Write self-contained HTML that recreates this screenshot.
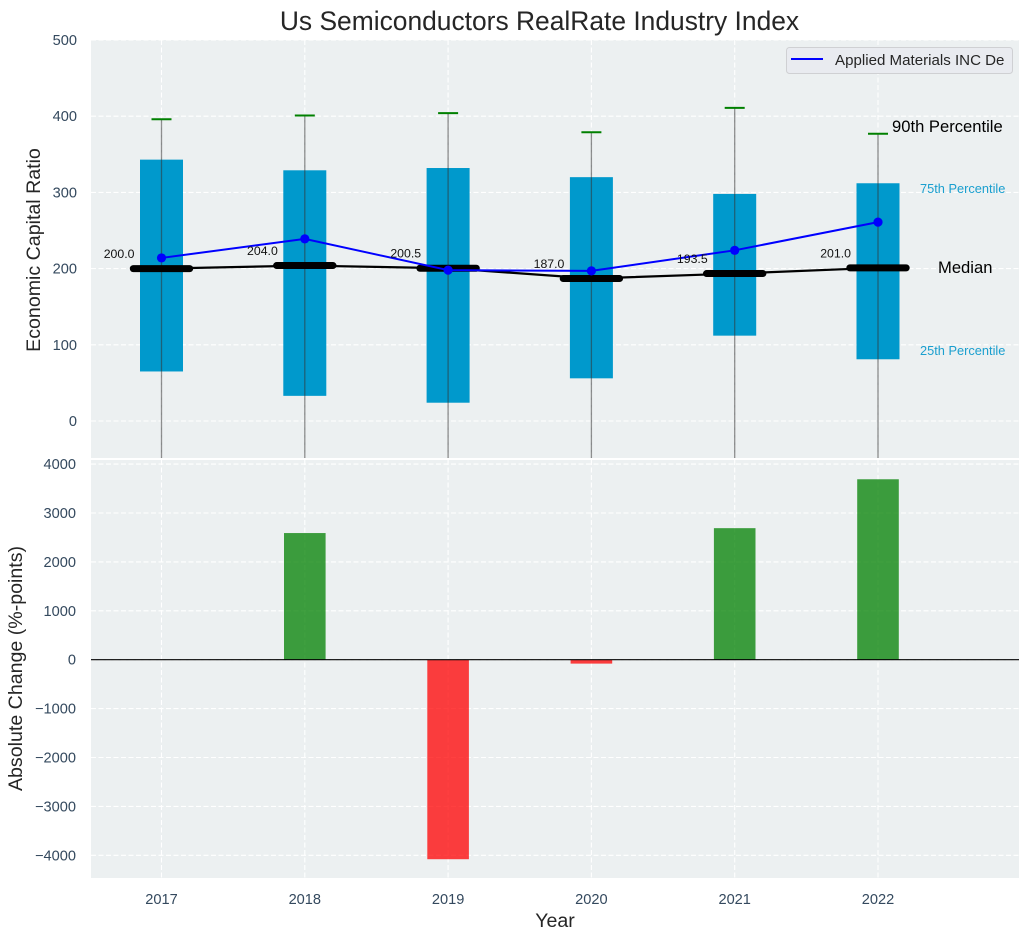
<!DOCTYPE html>
<html>
<head>
<meta charset="utf-8">
<title>Us Semiconductors RealRate Industry Index</title>
<style>
html,body{margin:0;padding:0;background:#fff;width:1029px;height:940px;overflow:hidden}
svg{display:block;font-family:"Liberation Sans",Arial,sans-serif}
</style>
</head>
<body>
<svg id="chart" xmlns="http://www.w3.org/2000/svg" width="1029" height="940" viewBox="0 0 1029 940">
<defs>
<clipPath id="top-clip"><rect x="91" y="40" width="928" height="418"/></clipPath>
<clipPath id="bottom-clip"><rect x="91" y="460" width="928" height="418"/></clipPath>
</defs>
<rect x="91" y="40" width="928" height="418" fill="#ecf0f1"/>
<rect x="91" y="460" width="928" height="418" fill="#ecf0f1"/>
<g id="grid"></g>
<g id="top-marks" clip-path="url(#top-clip)"></g>
<g id="bottom-marks" clip-path="url(#bottom-clip)"></g>
<g id="ticks" font-size="14.6" fill="#34495e"></g>
<g id="median-labels" font-size="12.3" fill="#111"></g>
<text x="539.5" y="30" text-anchor="middle" font-size="26.4" fill="#262626">Us Semiconductors RealRate Industry Index</text>
<text transform="translate(40,250) rotate(-90)" text-anchor="middle" font-size="19.6" fill="#262626">Economic Capital Ratio</text>
<text transform="translate(22,668.5) rotate(-90)" text-anchor="middle" font-size="19.6" fill="#262626">Absolute Change (%-points)</text>
<text x="555" y="927" text-anchor="middle" font-size="19.6" fill="#262626">Year</text>
<text x="892" y="132" font-size="16.6" fill="#000">90th Percentile</text>
<text x="920" y="193" font-size="12.8" fill="#1a9fcf">75th Percentile</text>
<text x="938" y="273" font-size="16.6" fill="#000">Median</text>
<text x="920" y="355" font-size="12.8" fill="#1a9fcf">25th Percentile</text>
<g>
<rect x="786.5" y="47.5" width="226" height="26" rx="3" fill="#e9ebf0" stroke="#cfd0d3"/>
<line x1="791" y1="59" x2="823" y2="59" stroke="#0000ff" stroke-width="2"/>
<text x="835" y="65" font-size="15.1" fill="#262626">Applied Materials INC De</text>
</g>
</svg>
<script>
const years = [2017, 2018, 2019, 2020, 2021, 2022];
const p90 = [396, 401, 404, 379, 411, 377];
const p75 = [343, 329, 332, 320, 298, 312];
const medians = [200, 204, 200.5, 187, 193.5, 201];
const p25 = [65, 33, 24, 56, 112, 81];
const p10 = [-120, -120, -120, -120, -120, -120];
const company = [214, 239, 198, 197, 224, 261];
const changes = [0, 2590, -4080, -80, 2690, 3690];
const topTicks = [0, 100, 200, 300, 400, 500];
const bottomTicks = [-4000, -3000, -2000, -1000, 0, 1000, 2000, 3000, 4000];

const NS = 'http://www.w3.org/2000/svg';
const xScale = v => 161.5 + (v - 2017) * 143.3;
const yTop = v => 421 - v * 0.762;
const yBottom = v => 659.7 - v * 0.0489;

function make(tag, parent, attrs, text) {
  const el = document.createElementNS(NS, tag);
  for (const k in attrs) el.setAttribute(k, attrs[k]);
  if (text !== undefined) el.textContent = text;
  parent.appendChild(el);
  return el;
}
const grid = document.getElementById('grid');
const top_ = document.getElementById('top-marks');
const bottom = document.getElementById('bottom-marks');
const ticks = document.getElementById('ticks');
const medLabels = document.getElementById('median-labels');
const gridStyle = {stroke: '#ffffff', 'stroke-width': 1.1, 'stroke-dasharray': '5 2.5', fill: 'none'};

topTicks.forEach(t => {
  const g = make('line', grid, Object.assign({x1: 91, x2: 1019, y1: yTop(t), y2: yTop(t)}, gridStyle));
  
  
  const l = make('text', ticks, {x: 77, y: yTop(t) + 5, 'text-anchor': 'end'}, String(t));
  
  
});
bottomTicks.forEach(t => {
  const g = make('line', grid, Object.assign({x1: 91, x2: 1019, y1: yBottom(t), y2: yBottom(t)}, gridStyle));
  
  
  const l = make('text', ticks, {x: 76, y: yBottom(t) + 5, 'text-anchor': 'end'}, String(t).replace('-', '\u2212'));
  
  
});
years.forEach(y => {
  const a = make('line', grid, Object.assign({x1: xScale(y), x2: xScale(y), y1: 40, y2: 458}, gridStyle));
  
  
  const b = make('line', grid, Object.assign({x1: xScale(y), x2: xScale(y), y1: 460, y2: 878}, gridStyle));
  
  
  const l = make('text', ticks, {x: xScale(y), y: 904, 'text-anchor': 'middle'}, String(y));
  
  
});

// Interquartile boxes
years.forEach((y, i) => {
  const r = make('rect', top_, {x: xScale(y) - 21.5, width: 43, y: yTop(p75[i]), height: yTop(p25[i]) - yTop(p75[i]), fill: '#0099cc'});
  
  
});
// Whiskers and caps
years.forEach((y, i) => {
  const w = make('line', top_, {x1: xScale(y), x2: xScale(y), y1: yTop(p90[i]), y2: yTop(p10[i]), stroke: '#333', 'stroke-opacity': 0.55, 'stroke-width': 1.3});
  
  
  const c = make('line', top_, {x1: xScale(y) - 10, x2: xScale(y) + 10, y1: yTop(p90[i]), y2: yTop(p90[i]), stroke: '#008000', 'stroke-width': 2});
  
  
});
// Median connecting line
const medianLine = make('polyline', top_, {points: years.map((y, i) => xScale(y) + ',' + yTop(medians[i])).join(' '), fill: 'none', stroke: '#000', 'stroke-width': 2.2});


years.forEach((y, i) => {
  const m = make('line', top_, {x1: xScale(y) - 28.2, x2: xScale(y) + 28.2, y1: yTop(medians[i]), y2: yTop(medians[i]), stroke: '#000', 'stroke-width': 7, 'stroke-linecap': 'round'});
  
  
  const t = make('text', medLabels, {x: xScale(y) - 27, y: yTop(medians[i]) - 10.5, 'text-anchor': 'end'}, medians[i].toFixed(1));
  
  
});
// Company series
const companyLine = make('polyline', top_, {points: years.map((y, i) => xScale(y) + ',' + yTop(company[i])).join(' '), fill: 'none', stroke: '#0000ff', 'stroke-width': 2});


years.forEach((y, i) => {
  const p = make('circle', top_, {cx: xScale(y), cy: yTop(company[i]), r: 4.6, fill: '#0000ff'});
  
  
});
// Change bars
years.forEach((y, i) => {
  const v = changes[i];
  const b = make('rect', bottom, {x: xScale(y) - 20.8, width: 41.6, y: Math.min(yBottom(v), yBottom(0)), height: Math.abs(yBottom(v) - yBottom(0)), fill: v >= 0 ? '#008000' : '#ff0000', 'fill-opacity': 0.75});
  
  
});
const zero = make('line', bottom, {x1: 91, x2: 1019, y1: yBottom(0), y2: yBottom(0), stroke: '#000', 'stroke-width': 1.2});


</script>
</body>
</html>
